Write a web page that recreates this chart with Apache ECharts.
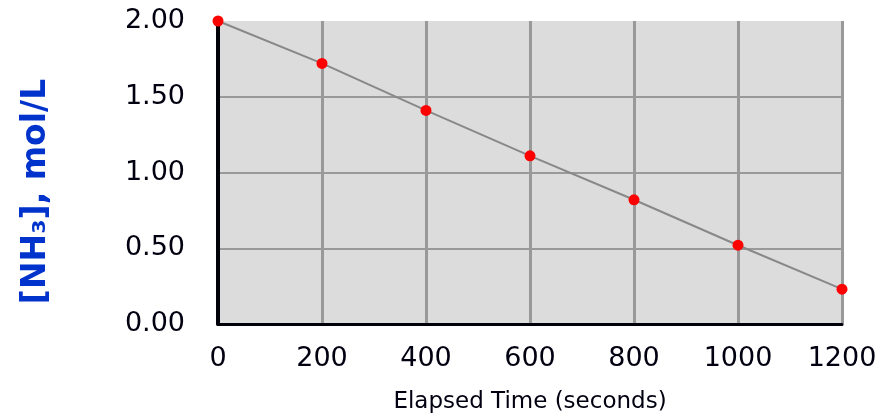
<!DOCTYPE html>
<html>
<head>
<meta charset="utf-8">
<script src="https://cdn.jsdelivr.net/npm/echarts@6/dist/echarts.min.js"></script>
<style>
  html, body { margin: 0; padding: 0; background: #ffffff; }
  #chart { width: 883px; height: 420px; }
</style>
</head>
<body>
<div id="chart"></div>
<script>
const times = [0, 200, 400, 600, 800, 1000, 1200];
const concentrations = [2.00, 1.72, 1.41, 1.11, 0.82, 0.52, 0.23];
const xTicks = [0, 200, 400, 600, 800, 1000, 1200];
const yTicks = [0.00, 0.50, 1.00, 1.50, 2.00];
const xTitle = 'Elapsed Time (seconds)';
const yTitle = '[NH\u2083], mol/L';

const chart = echarts.init(document.getElementById('chart'), null, { renderer: 'canvas' });
chart.setOption({
  animation: false,
  backgroundColor: '#ffffff',
  grid: {
    left: 218, right: 41, top: 21, bottom: 96,
    show: true, backgroundColor: '#dcdcdc', borderWidth: 0
  },
  xAxis: {
    type: 'value',
    min: xTicks[0], max: xTicks[xTicks.length - 1], interval: 200,
    name: xTitle,
    nameLocation: 'middle',
    nameGap: 67,
    nameTextStyle: { fontFamily: 'DejaVu Sans', fontSize: 23, color: '#000010' },
    axisLine: { show: true, onZero: false, lineStyle: { color: '#000008', width: 3 } },
    axisTick: { show: false },
    axisLabel: {
      fontFamily: 'DejaVu Sans', fontSize: 27, color: '#000010', margin: 21,
      formatter: v => String(v)
    },
    splitLine: { show: true, lineStyle: { color: '#999999', width: 3 } }
  },
  yAxis: {
    type: 'value',
    min: yTicks[0], max: yTicks[yTicks.length - 1], interval: 0.5,
    name: yTitle,
    nameLocation: 'middle',
    nameGap: 165,
    nameRotate: 90,
    nameTextStyle: {
      fontFamily: 'DejaVu Sans', fontWeight: 'bold', fontSize: 33, color: '#0033cc',
      padding: [0, 38, 0, 0]
    },
    axisLine: { show: true, onZero: false, lineStyle: { color: '#000008', width: 4 } },
    axisTick: { show: false },
    axisLabel: {
      fontFamily: 'DejaVu Sans', fontSize: 27, color: '#000010', margin: 33,
      formatter: v => v.toFixed(2)
    },
    splitLine: { show: true, showMaxLine: false, lineStyle: { color: '#999999', width: 2 } }
  },
  series: [{
    type: 'line',
    data: times.map((t, i) => [t, concentrations[i]]),
    lineStyle: { color: '#888888', width: 2 },
    symbol: 'circle',
    symbolSize: 11,
    itemStyle: { color: '#ff0000', borderWidth: 0 },
    clip: false
  }]
});
</script>
</body>
</html>
